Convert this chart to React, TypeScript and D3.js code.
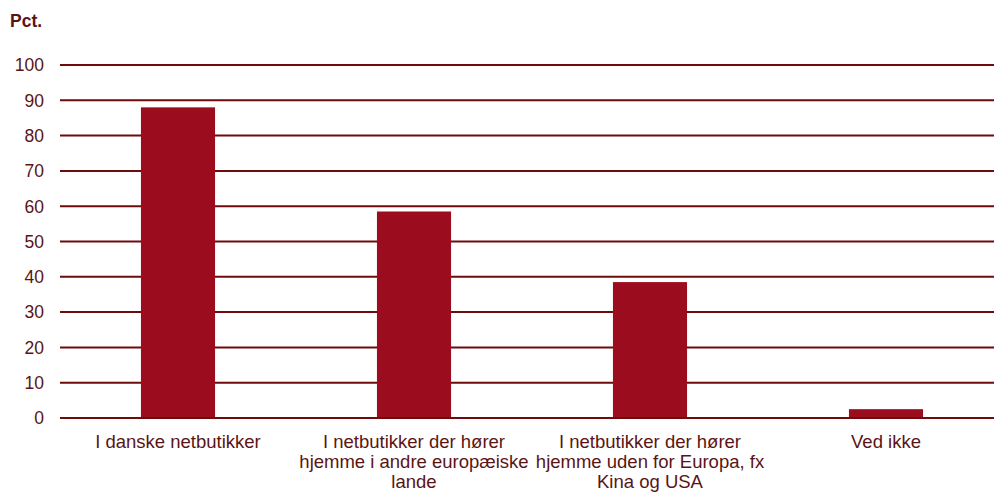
import React from "react";
import * as d3 from "d3";

const categories: string[][] = [
  ["I danske netbutikker"],
  ["I netbutikker der hører", "hjemme i andre europæiske", "lande"],
  ["I netbutikker der hører", "hjemme uden for Europa, fx", "Kina og USA"],
  ["Ved ikke"],
];
const values: number[] = [88, 58.5, 38.5, 2.5];
const yTicks: number[] = [0, 10, 20, 30, 40, 50, 60, 70, 80, 90, 100];
const unitLabel = "Pct.";

const W = 994;
const H = 493;
const margin = { left: 60, right: -10, top: 65, bottom: 75 };

export default function App() {
  const x = d3
    .scaleBand<number>()
    .domain(values.map((_, i) => i))
    .range([margin.left, W - margin.right])
    .paddingInner(0.686)
    .paddingOuter(0.343);
  const y = d3.scaleLinear().domain([0, 100]).range([H - margin.bottom, margin.top]);
  const textColor = "#5a1414";
  const gridColor = "#6e0b0b";
  const barColor = "#9c0c1f";
  const font = "'Liberation Sans', Arial, sans-serif";

  return (
    <svg
      width={W}
      height={H}
      style={{ position: "fixed", left: 0, top: 0, background: "#fff" }}
      fontFamily={font}
    >
      <text x={10} y={27} fontSize={17.5} fontWeight="bold" fill={textColor}>
        {unitLabel}
      </text>
      {yTicks.map((t) => (
        <g key={t}>
          {t !== 0 && (
            <line x1={margin.left} x2={W} y1={y(t)} y2={y(t)} stroke={gridColor} strokeWidth={2} />
          )}
          <text
            x={44}
            y={y(t)}
            dy="0.36em"
            textAnchor="end"
            fontSize={17.5}
            fill={textColor}
          >
            {t}
          </text>
        </g>
      ))}
      {values.map((v, i) => (
        <rect
          key={i}
          x={x(i)}
          y={y(v)}
          width={x.bandwidth()}
          height={y(0) - y(v)}
          fill={barColor}
        />
      ))}
      <line x1={margin.left} x2={W} y1={y(0)} y2={y(0)} stroke={gridColor} strokeWidth={2} />
      {categories.map((lines, i) => (
        <text
          key={i}
          x={(x(i) as number) + x.bandwidth() / 2}
          y={442}
          textAnchor="middle"
          fontSize={18.5}
          fill={textColor}
        >
          {lines.map((l, j) => (
            <tspan key={j} x={(x(i) as number) + x.bandwidth() / 2} dy={j === 0 ? "0.35em" : 20}>
              {l}
            </tspan>
          ))}
        </text>
      ))}
    </svg>
  );
}
